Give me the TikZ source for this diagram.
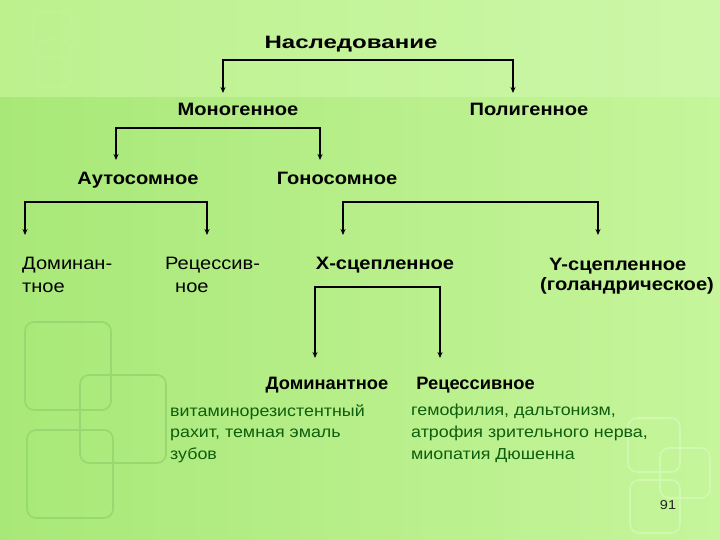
\documentclass[tikz,border=0pt]{standalone}
\usepackage{fontspec}
\setmainfont[FakeStretch=1.12]{Liberation Sans}
\newfontfamily\widefont[FakeStretch=1.34]{Liberation Sans}
\newfontfamily\narrowfont[FakeStretch=1.02]{Liberation Sans}
\usetikzlibrary{arrows.meta}
\definecolor{descgreen}{RGB}{14,94,14}
\definecolor{bgA}{RGB}{168,232,120}
\definecolor{bgB}{RGB}{198,245,155}
\definecolor{bgC}{RGB}{188,241,142}
\definecolor{bgD}{RGB}{204,247,168}
\definecolor{decodark}{RGB}{152,216,112}
\definecolor{decolight}{RGB}{212,249,182}
\begin{document}
\begin{tikzpicture}[x=1bp,y=-1bp,
 hd/.style={font=\fontsize{18}{21}\selectfont\bfseries, text=black, inner sep=0, anchor=base},
 rg/.style={font=\fontsize{18}{23}\selectfont, text=black, inner sep=0, align=left},
 ds/.style={font=\fontsize{16}{22}\selectfont, text=descgreen, inner sep=0, align=left},
 con/.style={draw=black, line width=1.4bp, line join=miter, {Stealth[length=6bp,width=5bp]}-{Stealth[length=6bp,width=5bp]}},
 deco/.style={line width=1.6bp, rounded corners=9bp}]
\useasboundingbox (0,0) rectangle (720,540);
% background
\shade[left color=bgA, right color=bgB] (0,97) rectangle (720,540);
\shade[left color=bgC, right color=bgD] (0,0) rectangle (720,97);
% decorative squares
\draw[deco, draw=decodark] (25,322) rectangle (111,410);
\draw[deco, draw=decodark] (80,375) rectangle (166,463);
\draw[deco, draw=decodark] (27,430) rectangle (113,518);
\draw[deco, draw=decolight, draw opacity=0.8] (628,418) rectangle (680,472);
\draw[deco, draw=decolight, draw opacity=0.8] (660,448) rectangle (710,498);
\draw[deco, draw=decolight, draw opacity=0.8] (630,480) rectangle (680,533);
\draw[deco, draw=decolight, line width=1bp, draw opacity=0.2] (33,12) rectangle (72,58);
\draw[deco, draw=decolight, line width=1bp, draw opacity=0.2] (38,40) rectangle (70,88);
% nodes
\node[hd, font=\fontsize{18}{21}\selectfont\widefont\bfseries] (nasl) at (351,49) {Наследование};
\node[hd] (mono) at (238,115.5) {Моногенное};
\node[hd] (poly) at (529,115.5) {Полигенное};
\node[hd] (auto) at (138,184.5) {Аутосомное};
\node[hd] (gono) at (337,184.5) {Гоносомное};
\node[rg, anchor=north west] (dom1) at (22,257) {Доминан-\\тное};
\node[rg, anchor=north west] (rec1) at (165,257) {Рецессив-\\\hspace*{10bp}ное};
\node[hd] (xs) at (385,270) {X-сцепленное};
\node[hd, align=left, anchor=north west] (ys) at (540,257.5) {\hspace*{9bp}Y-сцепленное\\(голандрическое)};
\node[hd, font=\fontsize{18}{21}\selectfont\narrowfont\bfseries] (dom2) at (327,389) {Доминантное};
\node[hd, font=\fontsize{18}{21}\selectfont\narrowfont\bfseries] (rec2) at (475.5,389) {Рецессивное};
\node[ds, anchor=north west] (d1) at (170,404) {витаминорезистентный\\рахит, темная эмаль\\зубов};
\node[ds, anchor=north west] (d2) at (411,404) {гемофилия, дальтонизм,\\атрофия зрительного нерва,\\миопатия Дюшенна};
\node[font=\fontsize{13}{15}\selectfont, text=black!85, inner sep=0] (num) at (668,505) {91};
% connector coordinates
\coordinate (b1l) at (223,60); \coordinate (b1r) at (513,60);
\coordinate (t1l) at (223,93); \coordinate (t1r) at (513,93);
\coordinate (b2l) at (116,128); \coordinate (b2r) at (320,128);
\coordinate (t2l) at (116,160); \coordinate (t2r) at (320,160);
\coordinate (b3l) at (25,202); \coordinate (b3r) at (207,202);
\coordinate (t3l) at (25,235); \coordinate (t3r) at (207,235);
\coordinate (b4l) at (343,202); \coordinate (b4r) at (598,202);
\coordinate (t4l) at (343,235); \coordinate (t4r) at (598,235);
\coordinate (b5l) at (315,287); \coordinate (b5r) at (440,287);
\coordinate (t5l) at (315,358); \coordinate (t5r) at (440,358);
\draw[con] (t1l) -- (b1l) -- (b1r) -- (t1r);
\draw[con] (t2l) -- (b2l) -- (b2r) -- (t2r);
\draw[con] (t3l) -- (b3l) -- (b3r) -- (t3r);
\draw[con] (t4l) -- (b4l) -- (b4r) -- (t4r);
\draw[con] (t5l) -- (b5l) -- (b5r) -- (t5r);
\end{tikzpicture}
\end{document}
